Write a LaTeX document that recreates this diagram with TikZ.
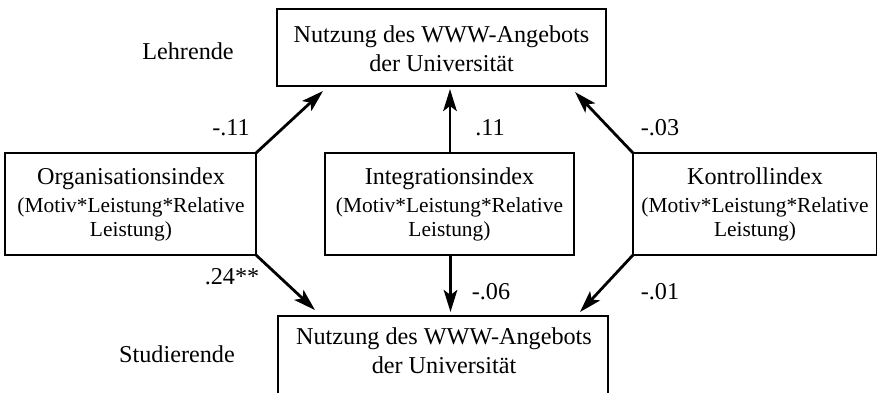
\documentclass[tikz,border=0pt]{standalone}
\usepackage{fontspec}
\setmainfont{Liberation Serif}
\usetikzlibrary{arrows.meta}
\begin{document}
\begin{tikzpicture}[x=1pt,y=-1pt,
  box/.style={draw, line width=1.1pt, inner sep=0pt, outer sep=0pt, anchor=north west},
  big/.style={font=\fontsize{24.2}{29}\selectfont, inner sep=0pt, anchor=base},
  small/.style={font=\fontsize{21.4}{25}\selectfont, inner sep=0pt, anchor=base},
  arr/.style={line width=2.8pt, -{Stealth[length=22pt,width=13.5pt,inset=5pt]}}]
\useasboundingbox (0,0) rectangle (878,392);
\clip (0,0) rectangle (878,392);
% boxes
\node[box, minimum width=329pt, minimum height=77pt] (top) at (277,9) {};
\node[box, minimum width=330pt, minimum height=95pt] (bot) at (278,316) {};
\node[box, minimum width=251pt, minimum height=102pt] (org) at (5,153) {};
\node[box, minimum width=249pt, minimum height=102pt] (int) at (325,153) {};
\node[box, minimum width=243.5pt, minimum height=102pt] (kon) at (633,153) {};
% box texts
\node[big] (top1) at (441.5,42) {Nutzung des WWW-Angebots};
\node[big] (top2) at (441.5,71) {der Universität};
\node[big] (bot1) at (444,344) {Nutzung des WWW-Angebots};
\node[big] (bot2) at (444,373) {der Universität};
\node[big] (org1) at (131,184) {Organisationsindex};
\node[small] (org2) at (131,212.5) {(Motiv*Leistung*Relative};
\node[small] (org3) at (131,236.7) {Leistung)};
\node[big] (int1) at (449.5,184) {Integrationsindex};
\node[small] (int2) at (449.5,212.5) {(Motiv*Leistung*Relative};
\node[small] (int3) at (449.5,236.7) {Leistung)};
\node[big] (kon1) at (755,184) {Kontrollindex};
\node[small] (kon2) at (755,212.5) {(Motiv*Leistung*Relative};
\node[small] (kon3) at (755,236.7) {Leistung)};
% side labels
\node[big] (lehr) at (188,59) {Lehrende};
\node[big] (stud) at (177,362) {Studierende};
% arrow tips
\coordinate (a1) at (323,91);
\coordinate (a2) at (450,89);
\coordinate (a3) at (575,92);
\coordinate (a4) at (315,310);
\coordinate (a5) at (450.5,312);
\coordinate (a6) at (580,312);
\draw[arr] (org.north east) -- (a1);
\draw[arr] (int.north -| a2) -- (a2);
\draw[arr] (kon.north west) -- (a3);
\draw[arr] (org.south east) -- (a4);
\draw[arr] (int.south -| a5) -- (a5);
\draw[arr] (kon.south west) -- (a6);
% coefficients
\node[big] (c1) at (231,135) {-.11};
\node[big] (c2) at (490,135) {.11};
\node[big] (c3) at (660,135) {-.03};
\node[big] (c4) at (232,284) {.24**};
\node[big] (c5) at (491,299) {-.06};
\node[big] (c6) at (660,299) {-.01};
\end{tikzpicture}
\end{document}
